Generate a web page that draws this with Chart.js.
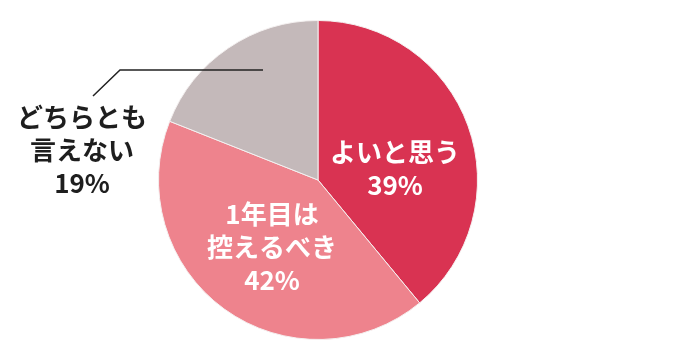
<!DOCTYPE html>
<html>
<head>
<meta charset="utf-8">
<script src="https://cdn.jsdelivr.net/npm/chart.js@4.4.0/dist/chart.umd.min.js"></script>
<style>
  html, body { margin: 0; padding: 0; background: #fff; }
  #wrap { width: 680px; height: 363px; }
</style>
</head>
<body>
<div id="wrap"><canvas id="pieChart"></canvas></div>
<script>
const labels = [["よいと思う"], ["1年目は", "控えるべき"], ["どちらとも", "言えない"]];
const values = [39, 42, 19];
const colors = ['#D93352', '#EE838D', '#C4B9BA'];

// label centres, as offsets from the pie centre
const labelOffsets = [[77, -11], [-46, 67], [-236, -30]];
const labelColors = ['#fff', '#fff', '#1e1e1e'];

const sliceLabels = {
  id: 'sliceLabels',
  afterDatasetsDraw(chart) {
    const ctx = chart.ctx;
    const arc = chart.getDatasetMeta(0).data[0];
    const cx = arc.x, cy = arc.y;
    ctx.save();

    // leader line for the outside label
    ctx.strokeStyle = '#222';
    ctx.lineWidth = 1.5;
    ctx.beginPath();
    ctx.moveTo(cx - 55, cy - 110);
    ctx.lineTo(cx - 198, cy - 110);
    ctx.lineTo(cx - 225, cy - 84);
    ctx.stroke();

    ctx.font = 'bold 26px "Noto Sans CJK JP"';
    ctx.textAlign = 'center';
    ctx.textBaseline = 'middle';
    const lh = 33;
    values.forEach((v, i) => {
      const lines = labels[i].concat([v + '%']);
      const [dx, dy] = labelOffsets[i];
      const top = cy + dy - (lines.length - 1) * lh / 2;
      ctx.fillStyle = labelColors[i];
      lines.forEach((t, j) => ctx.fillText(t, cx + dx, top + j * lh));
    });
    ctx.restore();
  }
};

new Chart(document.getElementById('pieChart'), {
  type: 'pie',
  data: {
    labels: labels.map(l => l.join('')),
    datasets: [{
      data: values,
      backgroundColor: colors,
      borderColor: '#f4f0f0',
      borderWidth: 1
    }]
  },
  options: {
    responsive: true,
    maintainAspectRatio: false,
    animation: false,
    layout: { padding: { top: 20, bottom: 23, left: 0, right: 44 } },
    plugins: {
      legend: { display: false },
      tooltip: { enabled: false }
    }
  },
  plugins: [sliceLabels]
});
</script>
</body>
</html>
